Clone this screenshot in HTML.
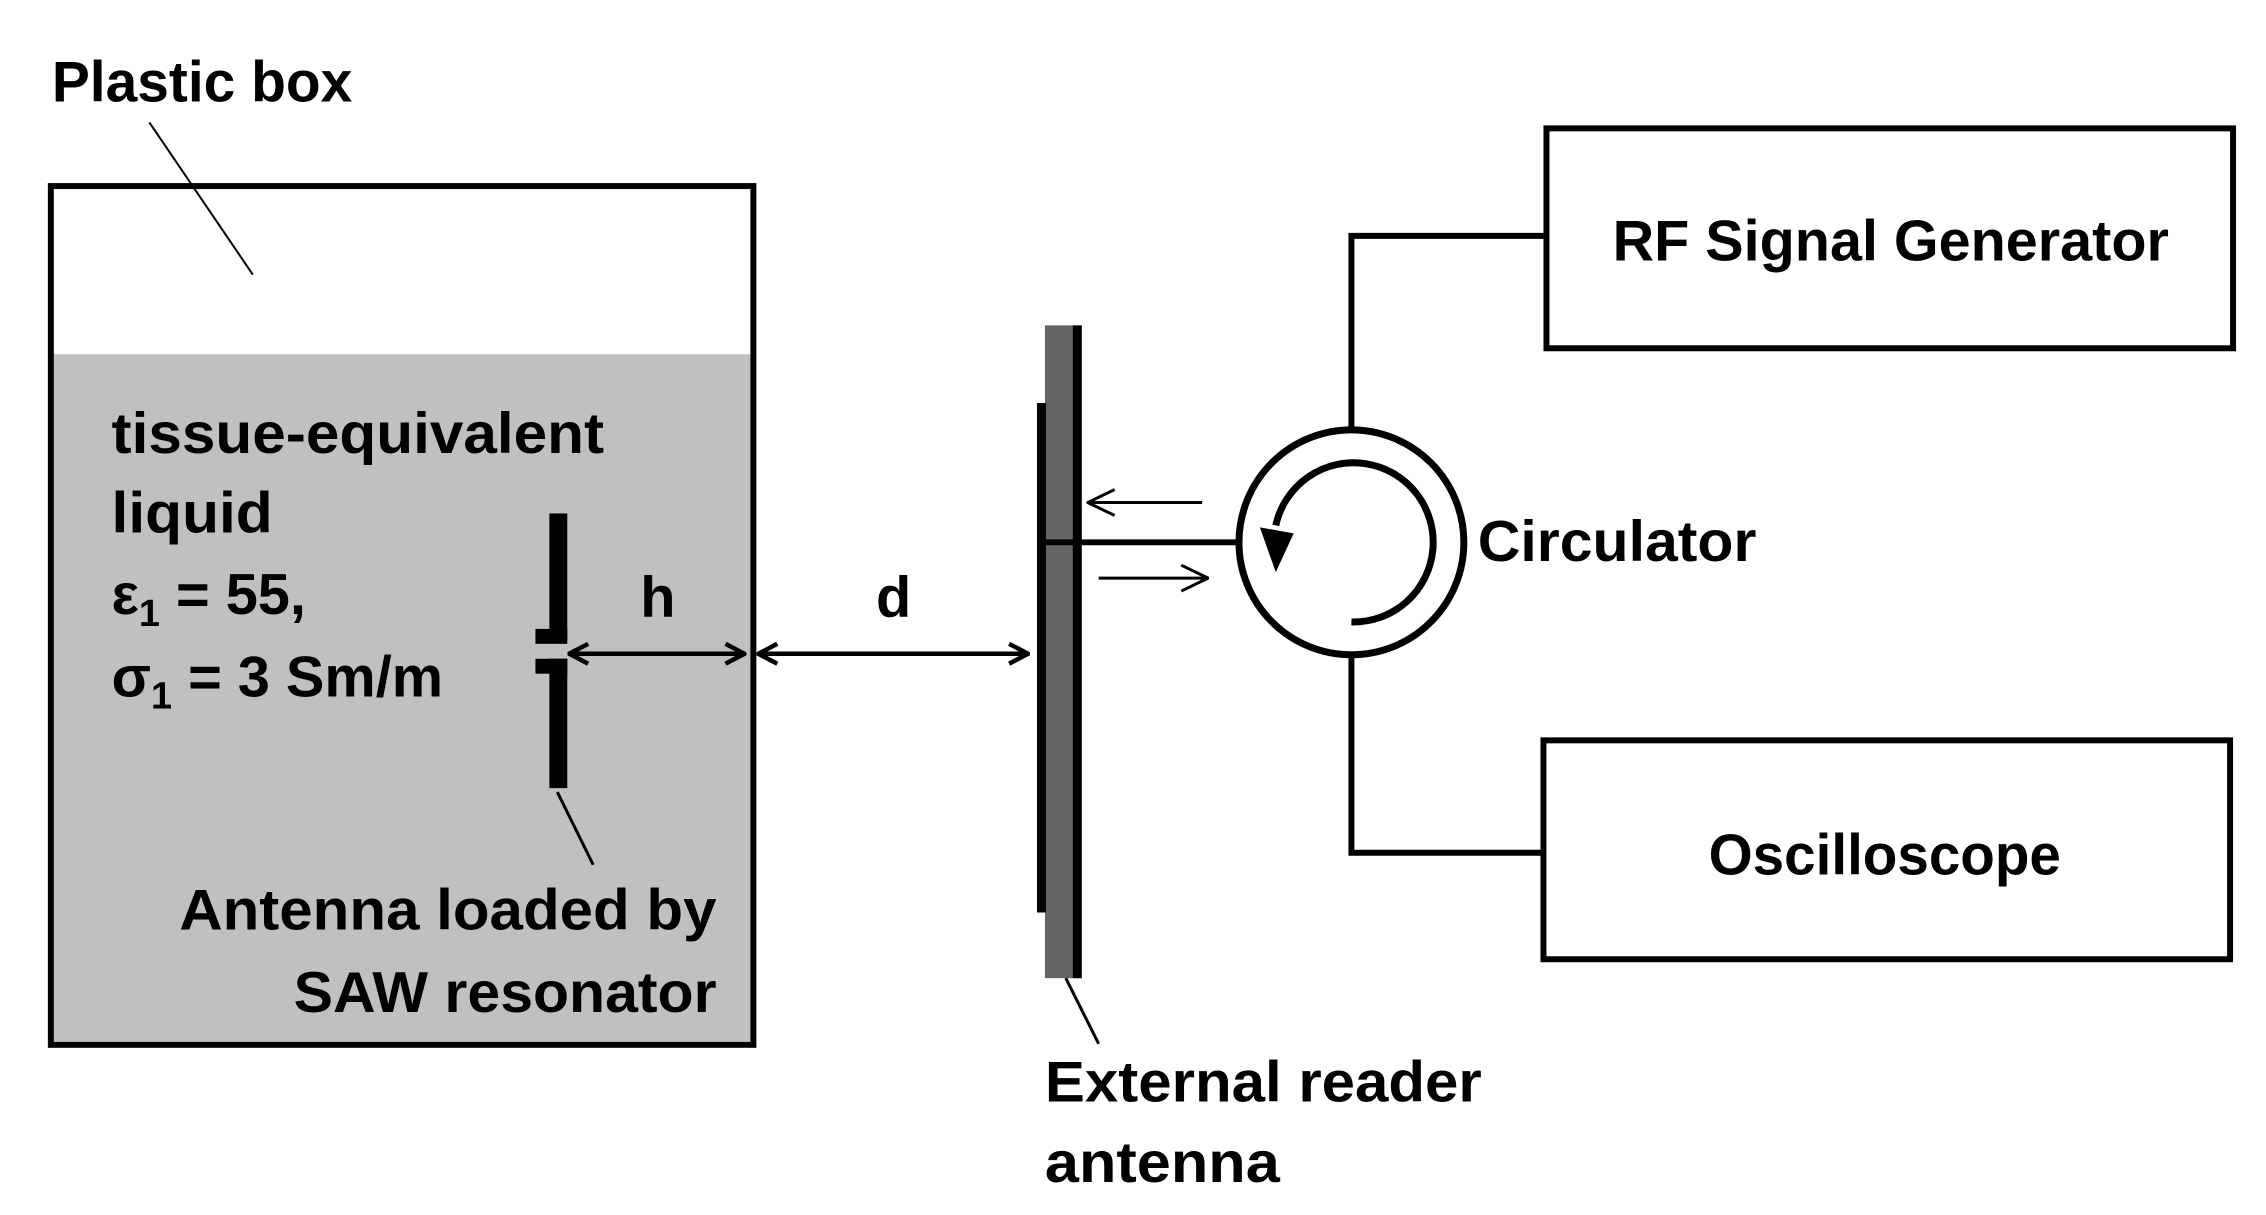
<!DOCTYPE html>
<html><head><meta charset="utf-8"><style>html,body{margin:0;padding:0;background:#fff}svg{display:block}</style></head>
<body>
<svg width="2266" height="1215" viewBox="0 0 2277 1221" xmlns="http://www.w3.org/2000/svg" font-family="'Liberation Sans', sans-serif" font-weight="bold" font-size="58">
<defs>
<marker id="ah" viewBox="0 0 24 24" refX="22" refY="12" markerWidth="24" markerHeight="24" markerUnits="userSpaceOnUse" orient="auto-start-reverse">
<path d="M3,2 L22,12 L3,22" fill="none" stroke="#000" stroke-width="4.5"/>
</marker>
<marker id="ah2" viewBox="0 0 30 30" refX="29" refY="15" markerWidth="30" markerHeight="30" markerUnits="userSpaceOnUse" orient="auto-start-reverse">
<path d="M2,2 L29,15 L2,28" fill="none" stroke="#000" stroke-width="3"/>
</marker>
</defs>
<rect x="0" y="0" width="2277" height="1221" fill="#fff"/>
<rect x="54" y="356" width="700" height="691" fill="#c0c0c0"/>
<rect x="51" y="187" width="706" height="863" fill="none" stroke="#000" stroke-width="6"/>
<line x1="150" y1="123" x2="254" y2="276" stroke="#000" stroke-width="2"/>
<text x="52" y="102" textLength="302" lengthAdjust="spacingAndGlyphs">Plastic box</text>
<text x="112" y="455" textLength="495" lengthAdjust="spacingAndGlyphs">tissue-equivalent</text>
<text x="112" y="535" textLength="162" lengthAdjust="spacingAndGlyphs">liquid</text>
<text x="112" y="617">ε<tspan font-size="38" dy="12">1</tspan><tspan dy="-12"> = 55,</tspan></text>
<text x="112" y="700">σ<tspan font-size="38" dy="12">1</tspan><tspan dy="-12"> = 3 Sm/m</tspan></text>
<rect x="552" y="516" width="18" height="126" fill="#000"/>
<rect x="538" y="632" width="32" height="15" fill="#000"/>
<rect x="538" y="662" width="32" height="15" fill="#000"/>
<rect x="552" y="662" width="18" height="130" fill="#000"/>
<line x1="560" y1="796" x2="596" y2="869" stroke="#000" stroke-width="3"/>
<text x="720" y="934" text-anchor="end" textLength="540" lengthAdjust="spacingAndGlyphs">Antenna loaded by</text>
<text x="720" y="1017" text-anchor="end" textLength="425" lengthAdjust="spacingAndGlyphs">SAW resonator</text>
<line x1="572" y1="657" x2="748" y2="657" stroke="#000" stroke-width="4.5" marker-start="url(#ah)" marker-end="url(#ah)"/>
<text x="661" y="620" text-anchor="middle">h</text>
<line x1="762" y1="657" x2="1033" y2="657" stroke="#000" stroke-width="4.5" marker-start="url(#ah)" marker-end="url(#ah)"/>
<text x="898" y="620" text-anchor="middle">d</text>
<rect x="1050" y="327" width="37" height="656" fill="#646464"/>
<rect x="1078" y="327" width="9" height="656" fill="#000"/>
<rect x="1042" y="405" width="9" height="512" fill="#000"/>
<line x1="1046" y1="545" x2="1245" y2="545" stroke="#000" stroke-width="6"/>
<line x1="1208" y1="505" x2="1093" y2="505" stroke="#000" stroke-width="3" marker-end="url(#ah2)"/>
<line x1="1104" y1="581" x2="1214" y2="581" stroke="#000" stroke-width="3" marker-end="url(#ah2)"/>
<line x1="1071" y1="983" x2="1104" y2="1049" stroke="#000" stroke-width="3"/>
<text x="1050" y="1107" textLength="439" lengthAdjust="spacingAndGlyphs">External reader</text>
<text x="1050" y="1188" textLength="236" lengthAdjust="spacingAndGlyphs">antenna</text>
<circle cx="1358" cy="545" r="113" fill="none" stroke="#000" stroke-width="7"/>
<path d="M1358,625 A80,80 0 1 0 1282,528" fill="none" stroke="#000" stroke-width="7"/>
<path d="M1266,530 L1300,536 L1282,575 Z" fill="#000"/>
<text x="1485" y="564" textLength="280" lengthAdjust="spacingAndGlyphs">Circulator</text>
<polyline points="1358,432 1358,237 1551,237" fill="none" stroke="#000" stroke-width="6"/>
<polyline points="1358,658 1358,857 1548,857" fill="none" stroke="#000" stroke-width="6"/>
<rect x="1554" y="129" width="690" height="221" fill="none" stroke="#000" stroke-width="6"/>
<text x="1900" y="262" text-anchor="middle" textLength="559" lengthAdjust="spacingAndGlyphs">RF Signal Generator</text>
<rect x="1551" y="744" width="690" height="220" fill="none" stroke="#000" stroke-width="6"/>
<text x="1894" y="879" text-anchor="middle" textLength="354" lengthAdjust="spacingAndGlyphs">Oscilloscope</text>
</svg>
</body></html>
